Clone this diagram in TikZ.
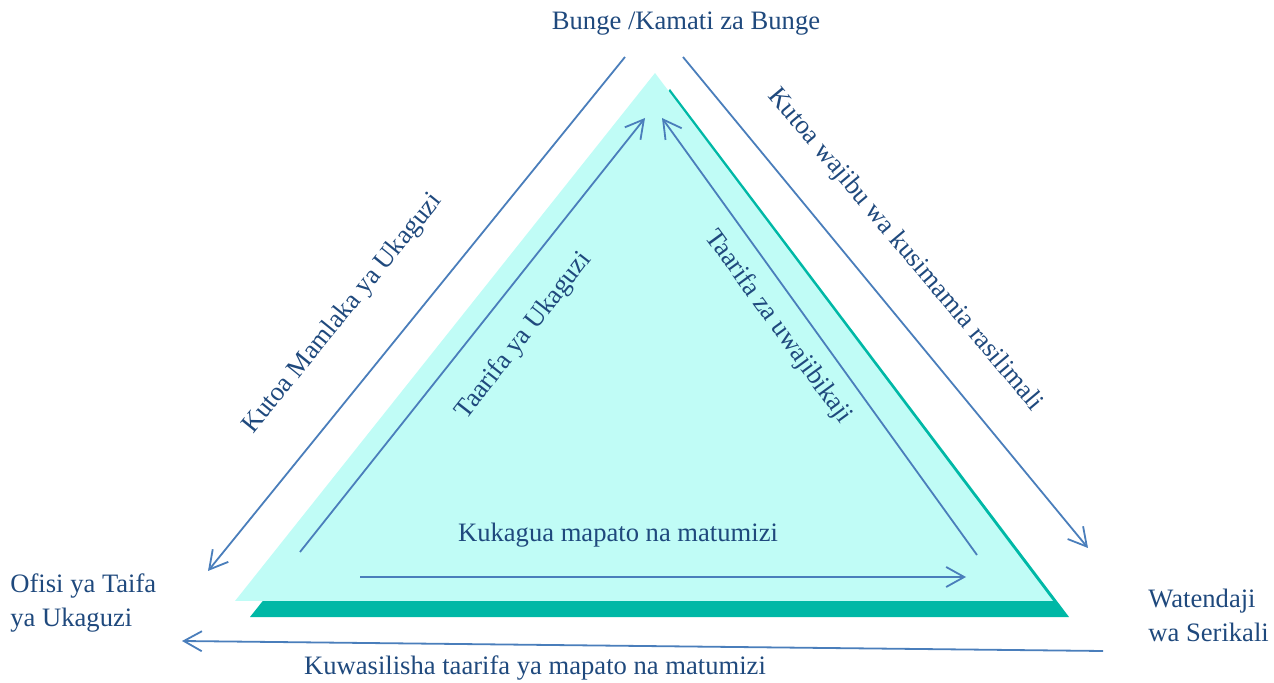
\documentclass[tikz,border=0pt]{standalone}
\usepackage{fontspec}
\setmainfont{Liberation Serif}
\usetikzlibrary{arrows.meta}
\definecolor{auditblue}{RGB}{74,126,187}
\definecolor{auditnavy}{RGB}{31,73,125}
\definecolor{auditlight}{RGB}{192,252,246}
\definecolor{auditteal}{RGB}{0,184,166}

\begin{document}
\begin{tikzpicture}[x=0.5pt, y=-0.5pt,
  flow/.style={-{Straight Barb[length=9pt,width=10pt]}, line width=0.9pt, auditblue},
  lbl/.style={text=auditnavy, font=\fontsize{13.3}{17}\selectfont, inner sep=1pt}]
  \useasboundingbox (0,0) rectangle (1274,683);
  % Shadow and triangle
  \fill[auditteal] (670,89) -- (250,617) -- (1069,617) -- cycle;
  \fill[auditlight] (655,73) -- (235,601) -- (1053,601) -- cycle;
  % Parties
  \node[lbl] (bunge) at (686,24) {Bunge /Kamati za Bunge};
  \node[lbl, anchor=west, align=left] (ofisi) at (8,603) {Ofisi ya Taifa\\ya Ukaguzi};
  \node[lbl, anchor=west, align=left] (watendaji) at (1146,615) {Watendaji\\wa Serikali};
  % Arrow end points
  \coordinate (olA) at (625,57);  \coordinate (olB) at (208,571);
  \coordinate (orA) at (683,57);  \coordinate (orB) at (1088,548);
  \coordinate (ilA) at (300,552); \coordinate (ilB) at (645,118);
  \coordinate (irA) at (977,555); \coordinate (irB) at (662,118);
  \coordinate (ibA) at (360,577); \coordinate (ibB) at (966,577);
  \coordinate (obA) at (1103,651); \coordinate (obB) at (182,641);
  % Flows
  \draw[flow] (olA) -- (olB);
  \draw[flow] (orA) -- (orB);
  \draw[flow] (ilA) -- (ilB);
  \draw[flow] (irA) -- (irB);
  \draw[flow] (ibA) -- (ibB);
  \draw[flow] (obA) -- (obB);
  % Flow labels
  \node[lbl, rotate=51] (mamlaka) at (343,314) {Kutoa Mamlaka ya Ukaguzi};
  \node[lbl, rotate=-50] (wajibu) at (905,250) {Kutoa wajibu wa kusimamia rasilimali};
  \node[lbl, rotate=52] (taarifaU) at (524,336) {Taarifa ya Ukaguzi};
  \node[lbl, rotate=-54] (taarifaW) at (778,327) {Taarifa za uwajibikaji};
  \node[lbl] (kukagua) at (618,535) {Kukagua mapato na matumizi};
  \node[lbl] (kuwasilisha) at (535,668) {Kuwasilisha taarifa ya mapato na matumizi};
\end{tikzpicture}
\end{document}
